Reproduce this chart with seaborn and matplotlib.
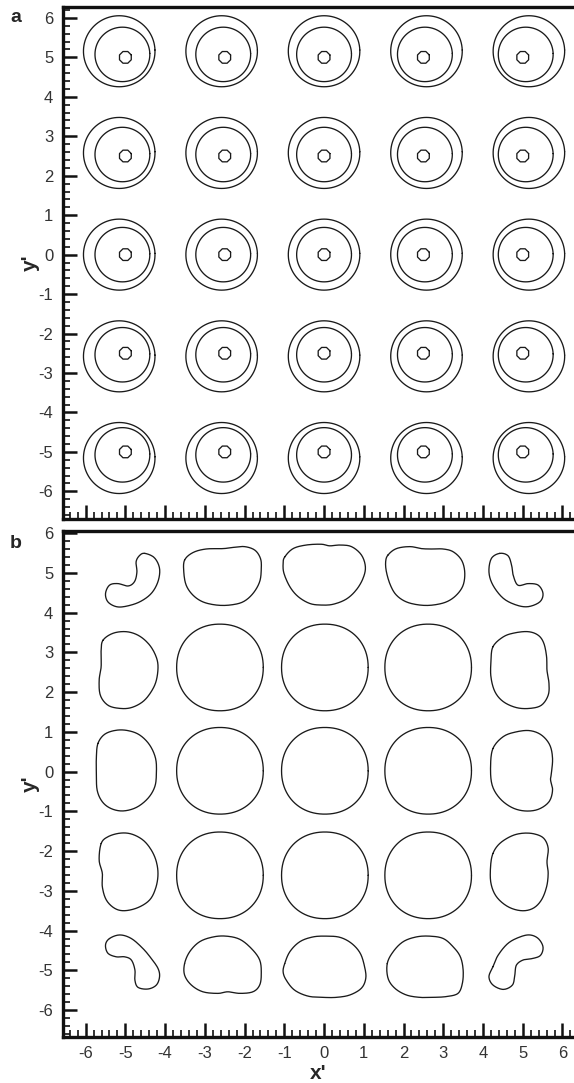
import numpy as np
import pandas as pd
import matplotlib
matplotlib.use("Agg")
import matplotlib.pyplot as plt
from matplotlib.ticker import MultipleLocator
import seaborn as sns

# ---- panel a: initial vortex array (three contour levels per vortex) ----
vortex_x = [-5.0, -2.5, 0.0, 2.5, 5.0]
vortex_y = [5.0, 2.5, 0.0, -2.5, -5.0]
level_radius = [0.16, 0.69, 0.90]
level_drift = [0.0, 0.015, 0.031]      # outward shift of each level per unit distance
level_sides = [8, 90, 90]

# ---- panel b: deformed vortex outlines (x', y') ----
big_cx = [-2.62, 0.02, 2.62]
big_cy = [2.62, 0.02, -2.61]
big_r = 1.09

outlines_b = {
    "r1c1": [(-4.51, 5.49), (-4.27, 5.38), (-4.14, 5.11), (-4.18, 4.78), (-4.35, 4.48), (-4.64, 4.27),
             (-4.98, 4.16), (-5.23, 4.15), (-5.44, 4.27), (-5.50, 4.48), (-5.40, 4.69), (-5.19, 4.73),
             (-4.93, 4.67), (-4.77, 4.78), (-4.71, 5.02), (-4.73, 5.28), (-4.64, 5.44)],
    "r1c2": [(-3.51, 5.32), (-3.30, 5.51), (-2.97, 5.60), (-2.54, 5.61), (-2.29, 5.64), (-2.00, 5.66),
             (-1.74, 5.57), (-1.60, 5.36), (-1.58, 5.11), (-1.62, 4.78), (-1.79, 4.48), (-2.04, 4.27),
             (-2.37, 4.19), (-2.71, 4.19), (-3.05, 4.27), (-3.30, 4.44), (-3.47, 4.69), (-3.53, 5.02)],
    "r1c3": [(-0.99, 5.40), (-0.78, 5.61), (-0.45, 5.70), (-0.07, 5.72), (0.14, 5.68), (0.40, 5.70),
             (0.69, 5.66), (0.94, 5.45), (1.04, 5.15), (0.98, 4.86), (0.81, 4.57), (0.56, 4.34),
             (0.23, 4.21), (-0.07, 4.19), (-0.36, 4.23), (-0.65, 4.40), (-0.86, 4.65), (-1.01, 4.99),
             (-1.03, 5.24)],
    "r1c4": [(1.61, 5.45), (1.82, 5.61), (2.16, 5.66), (2.45, 5.61), (2.70, 5.60), (3.00, 5.60),
             (3.25, 5.53), (3.46, 5.32), (3.54, 5.02), (3.50, 4.69), (3.33, 4.44), (3.08, 4.27),
             (2.74, 4.19), (2.41, 4.19), (2.07, 4.27), (1.82, 4.44), (1.67, 4.69), (1.57, 5.02),
             (1.55, 5.28)],
    "r1c5": [(4.42, 5.49), (4.63, 5.43), (4.72, 5.19), (4.76, 4.94), (4.88, 4.69), (5.14, 4.73),
             (5.39, 4.69), (5.51, 4.48), (5.43, 4.27), (5.14, 4.15), (4.84, 4.19), (4.51, 4.36),
             (4.25, 4.69), (4.15, 5.02), (4.21, 5.36)],
    "r2c1": [(-5.56, 3.31), (-5.31, 3.48), (-4.98, 3.52), (-4.68, 3.43), (-4.43, 3.23), (-4.26, 2.97),
             (-4.18, 2.68), (-4.22, 2.30), (-4.35, 2.01), (-4.56, 1.76), (-4.85, 1.61), (-5.14, 1.59),
             (-5.44, 1.67), (-5.63, 1.92), (-5.66, 2.30), (-5.61, 2.64), (-5.61, 3.06)],
    "r2c5": [(4.25, 3.14), (4.51, 3.39), (4.80, 3.49), (5.14, 3.52), (5.39, 3.43), (5.53, 3.23),
             (5.60, 2.89), (5.61, 2.55), (5.66, 2.22), (5.64, 1.92), (5.47, 1.67), (5.18, 1.59),
             (4.84, 1.61), (4.51, 1.76), (4.30, 2.01), (4.20, 2.38), (4.20, 2.76)],
    "r3c1": [(-5.69, 0.71), (-5.52, 0.94), (-5.23, 1.04), (-4.93, 1.03), (-4.64, 0.92), (-4.39, 0.67),
             (-4.24, 0.33), (-4.22, -0.05), (-4.26, -0.38), (-4.43, -0.67), (-4.72, -0.90), (-5.06, -0.99),
             (-5.36, -0.93), (-5.58, -0.76), (-5.71, -0.47), (-5.73, -0.05), (-5.73, 0.37)],
    "r3c5": [(4.25, 0.58), (4.51, 0.88), (4.84, 1.00), (5.18, 1.03), (5.47, 0.92), (5.68, 0.67),
             (5.75, 0.33), (5.72, -0.05), (5.70, -0.21), (5.75, -0.47), (5.66, -0.76), (5.39, -0.95),
             (5.05, -0.99), (4.72, -0.90), (4.42, -0.67), (4.23, -0.34), (4.19, 0.12)],
    "r4c1": [(-5.61, -1.81), (-5.44, -1.64), (-5.14, -1.55), (-4.85, -1.57), (-4.56, -1.72), (-4.35, -1.97),
             (-4.22, -2.27), (-4.18, -2.60), (-4.24, -2.94), (-4.39, -3.23), (-4.68, -3.42), (-5.02, -3.50),
             (-5.27, -3.44), (-5.48, -3.23), (-5.58, -2.90), (-5.58, -2.56), (-5.66, -2.23)],
    "r4c5": [(4.25, -2.06), (4.42, -1.81), (4.72, -1.62), (5.01, -1.55), (5.30, -1.57), (5.53, -1.68),
             (5.64, -1.93), (5.61, -2.27), (5.64, -2.56), (5.60, -2.90), (5.47, -3.23), (5.26, -3.44),
             (4.97, -3.50), (4.63, -3.40), (4.34, -3.15), (4.20, -2.81), (4.19, -2.39)],
    "r5c1": [(-5.40, -4.20), (-5.14, -4.11), (-4.85, -4.20), (-4.56, -4.45), (-4.35, -4.70), (-4.18, -4.95),
             (-4.14, -5.16), (-4.22, -5.37), (-4.43, -5.47), (-4.68, -5.43), (-4.76, -5.25), (-4.76, -4.99),
             (-4.85, -4.74), (-5.02, -4.66), (-5.23, -4.66), (-5.44, -4.57), (-5.50, -4.36)],
    "r5c2": [(-3.51, -4.83), (-3.38, -4.53), (-3.13, -4.28), (-2.79, -4.16), (-2.46, -4.14), (-2.12, -4.22),
             (-1.83, -4.45), (-1.62, -4.74), (-1.58, -5.08), (-1.62, -5.37), (-1.79, -5.54), (-2.12, -5.58),
             (-2.42, -5.54), (-2.67, -5.58), (-3.05, -5.54), (-3.34, -5.37), (-3.51, -5.12)],
    "r5c3": [(-0.99, -4.83), (-0.86, -4.53), (-0.61, -4.28), (-0.28, -4.16), (0.06, -4.14), (0.40, -4.17),
             (0.69, -4.32), (0.91, -4.57), (1.02, -4.91), (1.05, -5.20), (0.94, -5.45), (0.65, -5.62),
             (0.31, -5.68), (-0.03, -5.68), (-0.40, -5.65), (-0.74, -5.50), (-0.95, -5.25), (-1.03, -5.04)],
    "r5c4": [(1.59, -4.83), (1.74, -4.53), (1.99, -4.28), (2.32, -4.16), (2.66, -4.14), (3.00, -4.20),
             (3.25, -4.41), (3.43, -4.66), (3.50, -4.99), (3.48, -5.33), (3.37, -5.58), (3.08, -5.66),
             (2.74, -5.68), (2.41, -5.68), (2.07, -5.62), (1.78, -5.45), (1.61, -5.20)],
    "r5c5": [(4.25, -4.91), (4.38, -4.62), (4.63, -4.32), (4.93, -4.16), (5.18, -4.11), (5.39, -4.20),
             (5.51, -4.41), (5.45, -4.62), (5.26, -4.70), (5.01, -4.74), (4.84, -4.87), (4.80, -5.12),
             (4.74, -5.37), (4.51, -5.48), (4.25, -5.37), (4.15, -5.16)],
}

xticks = list(range(-6, 7))
yticks = list(range(-6, 7))


def closed_spline(points, per_seg=10):
    """Periodic Catmull-Rom curve through the outline vertices."""
    p = np.asarray(points, dtype=float)
    m = len(p)
    t = np.linspace(0, 1, per_seg, endpoint=False)[:, None]
    segs = []
    for i in range(m):
        p0, p1, p2, p3 = p[i - 1], p[i], p[(i + 1) % m], p[(i + 2) % m]
        segs.append(0.5 * (2 * p1 + (-p0 + p2) * t
                           + (2 * p0 - 5 * p1 + 4 * p2 - p3) * t ** 2
                           + (-p0 + 3 * p1 - 3 * p2 + p3) * t ** 3))
    c = np.vstack(segs)
    return np.vstack([c, c[:1]])


# long-form tables of closed curves
rows_a = []
for cy in vortex_y:
    for cx in vortex_x:
        for k, (r, d, n) in enumerate(zip(level_radius, level_drift, level_sides)):
            th = np.linspace(0, 2 * np.pi, n + 1) + np.pi / n
            ox, oy = cx * (1 + d), cy * (1 + d)
            for xx, yy in zip(ox + r * np.cos(th), oy + r * np.sin(th)):
                rows_a.append((f"{cx}_{cy}_{k}", xx, yy))
df_a = pd.DataFrame(rows_a, columns=["curve", "x", "y"])

rows_b = []
th = np.linspace(0, 2 * np.pi, 181)
ex = 2.12
for cy in big_cy:
    for cx in big_cx:
        c, s = np.cos(th), np.sin(th)
        xx = cx + big_r * np.sign(c) * np.abs(c) ** (2 / ex)
        yy = cy + big_r * np.sign(s) * np.abs(s) ** (2 / ex)
        for a, b in zip(xx, yy):
            rows_b.append((f"big_{cx}_{cy}", a, b))
for name, pts in outlines_b.items():
    for a, b in closed_spline(pts):
        rows_b.append((name, a, b))
df_b = pd.DataFrame(rows_b, columns=["curve", "x", "y"])

sns.set_style("ticks")
plt.rcParams["font.family"] = ["Liberation Sans", "DejaVu Sans"]
plt.rcParams["axes.unicode_minus"] = False

fig = plt.figure(figsize=(5.74, 10.83), dpi=100)
ax_a = fig.add_axes([63 / 574, 0.5208, 1 - 63 / 574, 0.4725])
ax_b = fig.add_axes([63 / 574, 0.04275, 1 - 63 / 574, 0.4672])

line_kw = dict(x="x", y="y", units="curve", estimator=None, sort=False,
               color="#1a1a1a", linewidth=0.95, legend=False)
sns.lineplot(data=df_a, ax=ax_a, **line_kw)
sns.lineplot(data=df_b, ax=ax_b, **line_kw)

for ax, ylim in ((ax_a, (-6.70, 6.27)), (ax_b, (-6.67, 6.06))):
    ax.set_xlim(-6.57, 6.29)
    ax.set_ylim(*ylim)
    ax.set_xticks(xticks)
    ax.set_yticks(yticks)
    ax.xaxis.set_minor_locator(MultipleLocator(0.2))
    ax.yaxis.set_minor_locator(MultipleLocator(0.2))
    ax.tick_params(which="major", direction="in", length=10, width=1.8,
                   top=False, right=False, labelsize=12, colors="#111111",
                   labelcolor="#333333", pad=7)
    ax.tick_params(which="minor", direction="in", length=5, width=1.2,
                   top=False, right=False, colors="#111111")
    ax.spines["right"].set_visible(False)
    for side in ("left", "top", "bottom"):
        ax.spines[side].set_linewidth(2.4)
        ax.spines[side].set_color("#111111")
    ax.set_xlabel("")
    ax.set_ylabel("y'", fontsize=15, fontweight="bold")
    ax.yaxis.set_label_coords(-0.045, 0.5)

ax_a.tick_params(axis="x", labelbottom=False)
ax_b.set_xlabel("x'", fontsize=15, fontweight="bold", labelpad=2)

fig.text(10 / 574, 1 - 18 / 1083, "a", fontsize=14, fontweight="bold", va="center", ha="left")
fig.text(10 / 574, 1 - 543 / 1083, "b", fontsize=14, fontweight="bold", va="center", ha="left")

fig.savefig("out.png", dpi=100)
